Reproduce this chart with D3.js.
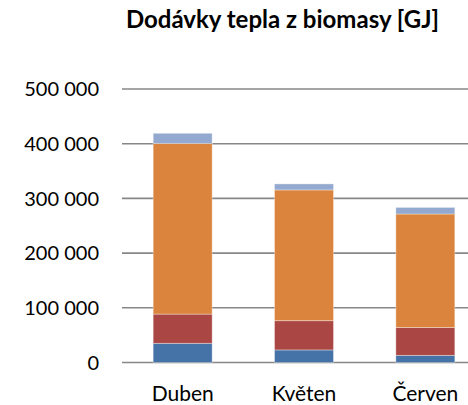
<!DOCTYPE html>
<html>
<head>
<meta charset="utf-8">
<script src="https://cdn.jsdelivr.net/npm/d3@7"></script>
<style>
  body { margin: 0; background: #fff; }
  svg { display: block; font-family: Lato, "Open Sans", sans-serif; }
</style>
</head>
<body>
<div id="chart"></div>
<script>
// Data (GJ)
const months = ["Duben", "Květen", "Červen"];
const seriesNames = ["s1", "s2", "s3", "s4"];
const s1 = [35000, 23000, 13000];
const s2 = [53500, 53500, 51000];
const s3 = [312000, 239000, 207500];
const s4 = [18500, 11000, 12000];
const seriesColors = ["#4572A7", "#AA4643", "#DB843D", "#93A9CF"];
const yTicks = [0, 100000, 200000, 300000, 400000, 500000];
const chartTitle = "Dodávky tepla z biomasy [GJ]";

const width = 468, height = 405;
const margin = { top: 89, left: 122, bottom: 42.5 };

const svg = d3.select("#chart").append("svg")
    .attr("width", width)
    .attr("height", height);

// table for the stack
const rows = months.map((m, i) => ({ month: m, s1: s1[i], s2: s2[i], s3: s3[i], s4: s4[i] }));
const stacked = d3.stack().keys(seriesNames)(rows);

const x = d3.scaleBand()
    .domain(months)
    .range([margin.left, margin.left + 364])
    .paddingInner(0.514)
    .paddingOuter(0.257);

const y = d3.scaleLinear()
    .domain([0, 500000])
    .range([height - margin.bottom, margin.top]);

// number format with space as thousands separator
const fmt = d3.formatLocale({ decimal: ",", thousands: " ", grouping: [3], currency: ["", " Kč"] }).format(",d");

// gridlines
svg.append("g").selectAll("line")
    .data(yTicks).enter().append("line")
    .attr("x1", margin.left).attr("x2", width)
    .attr("y1", d => y(d)).attr("y2", d => y(d))
    .attr("stroke", "#878787")
    .attr("stroke-width", 1.6);

// y axis labels
svg.append("g").selectAll("text")
    .data(yTicks).enter().append("text")
    .attr("x", 99)
    .attr("y", d => y(d))
    .attr("dy", "0.36em")
    .attr("text-anchor", "end")
    .attr("font-size", 20)
    .attr("fill", "#000")
    .text(d => fmt(d));

// bars
svg.append("g").selectAll("g")
    .data(stacked).enter().append("g")
    .attr("fill", (d, i) => seriesColors[i])
    .selectAll("rect")
    .data(d => d).enter().append("rect")
    .attr("x", d => x(d.data.month))
    .attr("width", x.bandwidth())
    .attr("y", d => y(d[1]))
    .attr("height", d => y(d[0]) - y(d[1]))
    .attr("stroke", "rgba(255,255,255,0.35)")
    .attr("stroke-width", 1);

// category labels
svg.append("g").selectAll("text")
    .data(months).enter().append("text")
    .attr("x", d => x(d) + x.bandwidth() / 2)
    .attr("y", 400.5)
    .attr("text-anchor", "middle")
    .attr("font-size", 21)
    .attr("fill", "#000")
    .text(d => d);

// title
svg.append("text")
    .attr("x", 282.5)
    .attr("y", 28)
    .attr("text-anchor", "middle")
    .attr("font-size", 24)
    .attr("font-weight", "bold")
    .attr("fill", "#000")
    .text(chartTitle);
</script>
</body>
</html>
